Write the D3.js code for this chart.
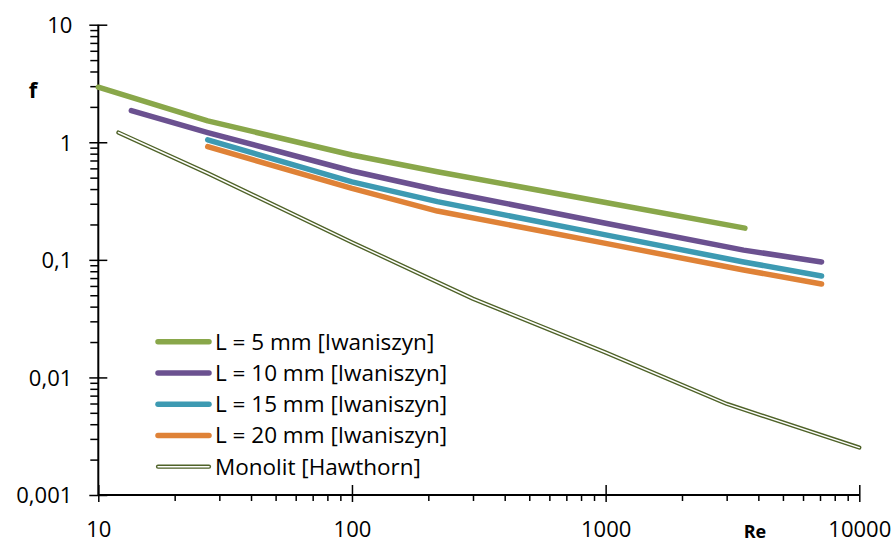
<!DOCTYPE html>
<html>
<head>
<meta charset="utf-8">
<script src="https://cdn.jsdelivr.net/npm/d3@7"></script>
<style>
  html, body { margin: 0; padding: 0; background: #ffffff; }
  svg { display: block; }
  text { font-family: "Open Sans", "Liberation Sans", sans-serif; fill: #000; }
</style>
</head>
<body>
<svg id="chart" width="896" height="542"></svg>
<script>
// Friction factor f versus Reynolds number Re (log-log)
const reL5 = [10, 27, 100, 217, 1000, 3540];
const fL5 = [2.94, 1.52, 0.78, 0.562, 0.307, 0.186];

const reL10 = [13.5, 27, 100, 217, 1000, 3500, 7100];
const fL10 = [1.86, 1.21, 0.57, 0.393, 0.205, 0.121, 0.096];

const reL15 = [27, 100, 217, 1000, 3500, 7100];
const fL15 = [1.05, 0.461, 0.313, 0.163, 0.096, 0.073];

const reL20 = [27, 100, 217, 1000, 3500, 7100];
const fL20 = [0.918, 0.405, 0.26, 0.138, 0.082, 0.0624];

const reMono = [12, 27, 100, 300, 1000, 3000, 10000];
const fMono = [1.21, 0.545, 0.141, 0.0467, 0.0163, 0.00596, 0.00253];

const seriesNames = ["L = 5 mm [Iwaniszyn]", "L = 10 mm [Iwaniszyn]", "L = 15 mm [Iwaniszyn]", "L = 20 mm [Iwaniszyn]", "Monolit [Hawthorn]"];

const xTickValues = [10, 100, 1000, 10000];
const xTickLabels = ["10", "100", "1000", "10000"];
const yTickValues = [0.001, 0.01, 0.1, 1, 10];
const yTickLabels = ["0,001", "0,01", "0,1", "1", "10"];

const colors = ["#89a74a", "#6b5190", "#3d9ab2", "#df8237", "#4f6228"];

const svg = d3.select("#chart");

const x = d3.scaleLog().domain([10, 10000]).range([98.3, 859.3]);
const y = d3.scaleLog().domain([0.001, 10]).range([495, 24.7]);

const zip = (rs, fs) => rs.map((r, i) => ({ re: r, f: fs[i] }));
const series = [
  zip(reL5, fL5),
  zip(reL10, fL10),
  zip(reL15, fL15),
  zip(reL20, fL20),
  zip(reMono, fMono)
];

const line = d3.line().x(d => x(d.re)).y(d => y(d.f));

// minor tick values (2..9 within each decade)
function minors(lo, hi) {
  const out = [];
  for (let p = lo; p < hi; p++) {
    for (let k = 2; k <= 9; k++) out.push(k * Math.pow(10, p));
  }
  return out;
}

// Y axis
const yMinor = svg.append("g").attr("transform", `translate(${x(10)},0)`)
  .call(d3.axisLeft(y).tickValues(minors(-3, 1)).tickSize(8).tickFormat(""));
const yMajor = svg.append("g").attr("transform", `translate(${x(10)},0)`)
  .call(d3.axisLeft(y).tickValues(yTickValues).tickSize(9)
    .tickFormat((d, i) => yTickLabels[i]).tickPadding(17));
yMajor.selectAll(".tick line").attr("x2", 9).attr("x1", -9);
yMajor.selectAll(".tick text").attr("font-size", 22).attr("font-family", "Open Sans").attr("dy", "0.36em");

// X axis
const xMinor = svg.append("g").attr("transform", `translate(0,${y(0.001)})`)
  .call(d3.axisBottom(x).tickValues(minors(1, 4)).tickSize(6).tickFormat(""));
const xMajor = svg.append("g").attr("transform", `translate(0,${y(0.001)})`)
  .call(d3.axisBottom(x).tickValues(xTickValues).tickSize(7)
    .tickFormat((d, i) => xTickLabels[i]).tickPadding(0));
xMajor.selectAll(".tick line").attr("y1", -10).attr("y2", 7);
xMajor.selectAll(".tick text").attr("font-size", 22).attr("font-family", "Open Sans")
  .attr("dy", null).attr("y", 42);

[yMinor, yMajor, xMinor, xMajor].forEach(g => {
  g.selectAll(".domain").remove();
  g.selectAll(".tick line").attr("stroke", "#000").attr("stroke-width", 1.5);
});

// axis lines
svg.append("line").attr("x1", x(10)).attr("x2", x(10)).attr("y1", y(10)).attr("y2", y(0.001))
  .attr("stroke", "#000").attr("stroke-width", 2);
svg.append("line").attr("x1", x(10)).attr("x2", x(10000)).attr("y1", y(0.001)).attr("y2", y(0.001))
  .attr("stroke", "#000").attr("stroke-width", 2);

// axis titles
svg.append("text").attr("x", 33).attr("y", 98).attr("text-anchor", "middle")
  .attr("font-size", 22).attr("font-weight", "bold").text("f");
svg.append("text").attr("x", 755).attr("y", 538).attr("text-anchor", "middle")
  .attr("font-size", 18).attr("font-weight", "bold").text("Re");

// data lines
function drawSeries(g, data, i) {
  if (i < 4) {
    g.append("path").datum(data).attr("d", line).attr("fill", "none")
      .attr("stroke", colors[i]).attr("stroke-width", 5.5)
      .attr("stroke-linecap", "round").attr("stroke-linejoin", "round");
  } else {
    g.append("path").datum(data).attr("d", line).attr("fill", "none")
      .attr("stroke", colors[i]).attr("stroke-width", 4.2)
      .attr("stroke-linecap", "round").attr("stroke-linejoin", "round");
    g.append("path").datum(data).attr("d", line).attr("fill", "none")
      .attr("stroke", "#ffffff").attr("stroke-width", 1.5)
      .attr("stroke-linecap", "round").attr("stroke-linejoin", "round");
  }
}

const plot = svg.append("g");
// draw back to front so the L = 5 mm line sits on top
[4, 3, 2, 1, 0].forEach(i => drawSeries(plot.append("g"), series[i], i));

// legend
const legend = svg.append("g");
seriesNames.forEach((name, i) => {
  const ly = 341.7 + i * 31.25;
  const g = legend.append("g");
  if (i < 4) {
    g.append("line").attr("x1", 158).attr("x2", 209).attr("y1", ly).attr("y2", ly)
      .attr("stroke", colors[i]).attr("stroke-width", 5.5).attr("stroke-linecap", "round");
  } else {
    g.append("line").attr("x1", 158).attr("x2", 209).attr("y1", ly).attr("y2", ly)
      .attr("stroke", colors[i]).attr("stroke-width", 4.2).attr("stroke-linecap", "round");
    g.append("line").attr("x1", 158).attr("x2", 209).attr("y1", ly).attr("y2", ly)
      .attr("stroke", "#fff").attr("stroke-width", 1.5).attr("stroke-linecap", "round");
  }
  g.append("text").attr("x", 215).attr("y", ly + 8).attr("font-size", 22.5).text(name);
});
</script>
</body>
</html>
